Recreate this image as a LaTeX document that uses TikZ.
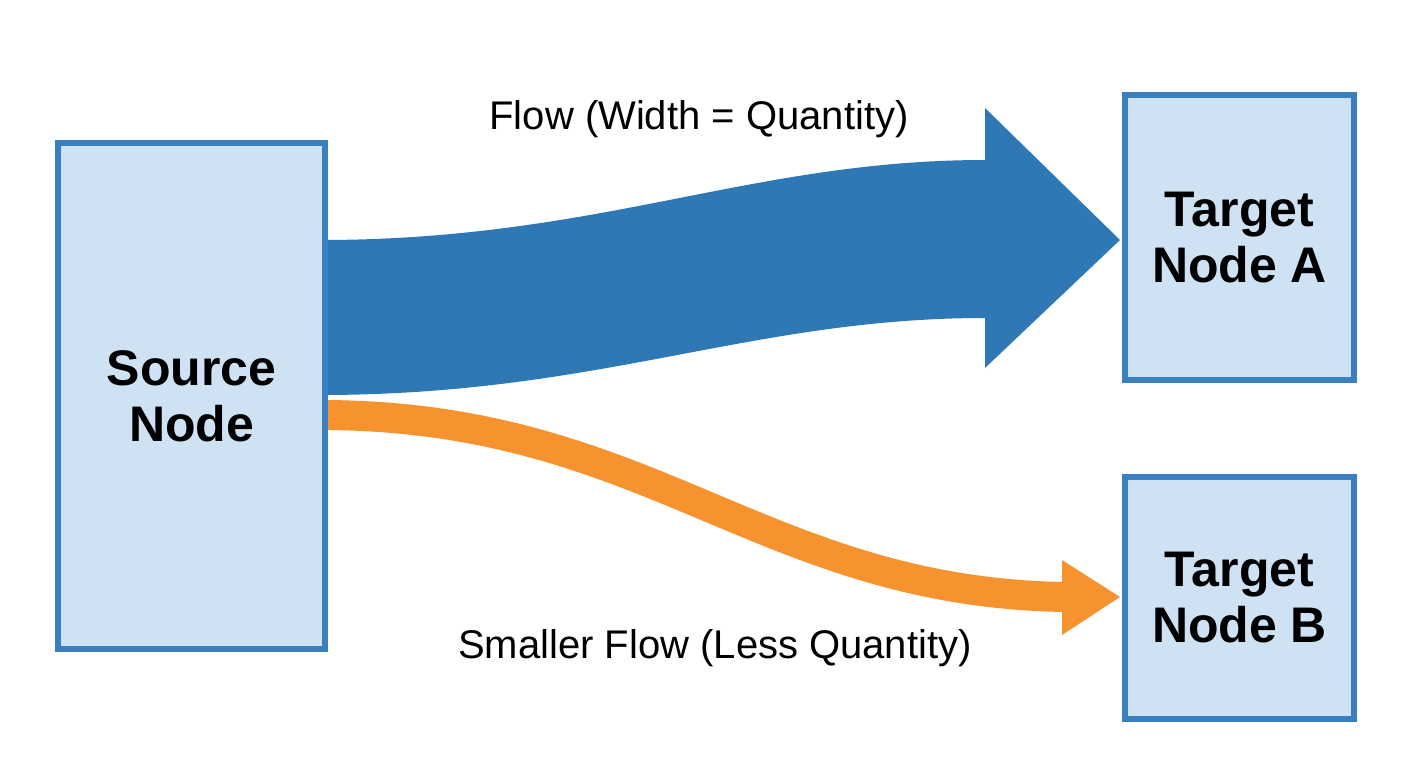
\documentclass[tikz,border=0pt]{standalone}
\usepackage{fontspec}
\setmainfont{Liberation Sans}
\definecolor{boxline}{HTML}{3A7FC0}
\definecolor{boxfill}{HTML}{CFE2F3}
\definecolor{flowblue}{HTML}{2F78B6}
\definecolor{floworange}{HTML}{F7932F}
\begin{document}
\begin{tikzpicture}[x=1pt,y=-1pt,
  box/.style={draw=boxline,fill=boxfill,line width=6pt,inner sep=0pt,align=center,font=\bfseries\fontsize{50}{56}\selectfont},
  lbl/.style={font=\fontsize{40}{46}\selectfont}]
\fill[white!97!black!3] (0,0) rectangle (1406,766);
\useasboundingbox (0,0) rectangle (1406,766);
% flows
\fill[flowblue] (320,240) .. controls (600,240) and (750,160) .. (985,160) -- (985,108) -- (1120,240) -- (985,368) -- (985,318) .. controls (750,318) and (600,395) .. (320,395) -- cycle;
\draw[floworange,line width=30pt] (320,415) .. controls (650,415) and (760,592) .. (1065,597);
\fill[floworange] (1062,560) -- (1120,597) -- (1062,635) -- cycle;
% boxes
\node[box,minimum width=267pt,minimum height=506pt] (src) at (191.5,396) {Source\\Node};
\node[box,minimum width=229pt,minimum height=285pt] (ta) at (1239.5,237.5) {Target\\Node A};
\node[box,minimum width=229pt,minimum height=242pt] (tb) at (1239.5,598) {Target\\Node B};
\node[lbl] (l1) at (699,119) {Flow (Width = Quantity)};
\node[lbl] (l2) at (715,648) {Smaller Flow (Less Quantity)};
\end{tikzpicture}
\end{document}
